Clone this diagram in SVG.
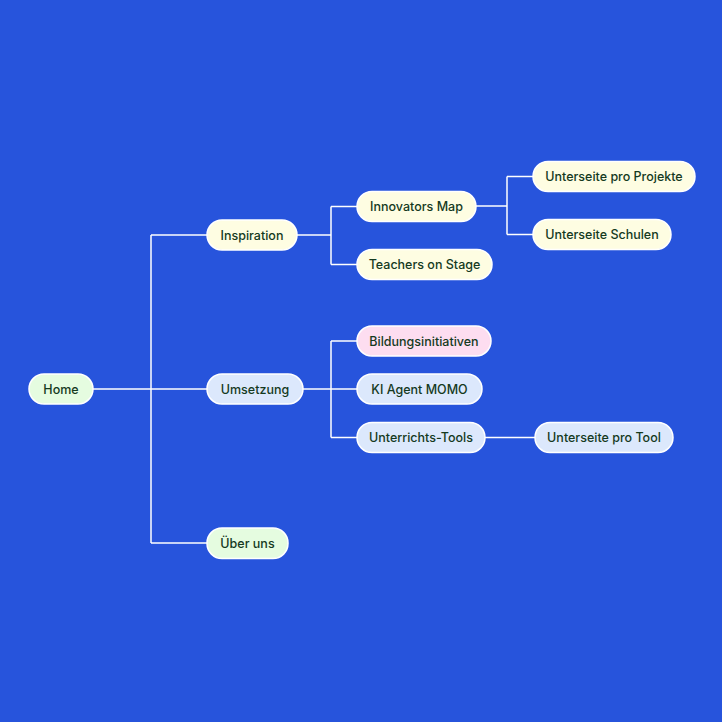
<svg xmlns="http://www.w3.org/2000/svg" width="722" height="722" viewBox="0 0 722 722">
<style>
.bg{fill:#2754DC}
.n rect{stroke:#ffffff;stroke-width:1.5}
.y rect{fill:#FEFDE2}
.g rect{fill:#E5FCE0}
.b rect{fill:#DCE8FC}
.p rect{fill:#FDDDF0}
.n text{font-family:Inter,"Liberation Sans",sans-serif;font-size:12.5px;font-weight:500;fill:#153A1E;text-anchor:middle;dominant-baseline:central}
.c{fill:none;stroke:#ffffff;stroke-width:1.5}
</style>
<rect class="bg" x="0" y="0" width="722" height="722"/>
<g id="connectors">
<path class="c" d="M93 389H207"/>
<path class="c" d="M151 235V543"/>
<path class="c" d="M151 235H207"/>
<path class="c" d="M151 543H207"/>
<path class="c" d="M297 235H331"/>
<path class="c" d="M331 206.5V264.5"/>
<path class="c" d="M331 206.5H357"/>
<path class="c" d="M331 264.5H357"/>
<path class="c" d="M476 206H507"/>
<path class="c" d="M507 176.5V234.5"/>
<path class="c" d="M507 176.5H533"/>
<path class="c" d="M507 234.5H533"/>
<path class="c" d="M303 389H357"/>
<path class="c" d="M331 341V437.5"/>
<path class="c" d="M331 341H357"/>
<path class="c" d="M331 437.5H357"/>
<path class="c" d="M485 437.5H535"/>
</g>
<g id="home" class="n g"><rect x="29" y="374" width="64" height="30" rx="15"/><text x="61" y="389">Home</text></g>
<g id="inspiration" class="n y"><rect x="207" y="220" width="90" height="30" rx="15"/><text x="252" y="235">Inspiration</text></g>
<g id="umsetzung" class="n b"><rect x="207" y="374" width="96" height="30" rx="15"/><text x="255" y="389">Umsetzung</text></g>
<g id="ueber-uns" class="n g"><rect x="207" y="528" width="81" height="30.5" rx="15"/><text x="247.5" y="543.5">Über uns</text></g>
<g id="innovators-map" class="n y"><rect x="357" y="191.5" width="119" height="30" rx="15"/><text x="416.5" y="206.5">Innovators Map</text></g>
<g id="teachers-on-stage" class="n y"><rect x="357" y="249.5" width="135" height="30" rx="15"/><text x="424.5" y="264.5">Teachers on Stage</text></g>
<g id="unterseite-projekte" class="n y"><rect x="533" y="161.5" width="162" height="30" rx="15"/><text x="614" y="176.5">Unterseite pro Projekte</text></g>
<g id="unterseite-schulen" class="n y"><rect x="533" y="219.5" width="138" height="30" rx="15"/><text x="602" y="234.5">Unterseite Schulen</text></g>
<g id="bildungsinitiativen" class="n p"><rect x="357" y="326" width="134" height="30" rx="15"/><text x="424" y="341">Bildungsinitiativen</text></g>
<g id="ki-agent-momo" class="n b"><rect x="357" y="374" width="125" height="30" rx="15"/><text x="419.5" y="389">KI Agent MOMO</text></g>
<g id="unterrichts-tools" class="n b"><rect x="357" y="422.5" width="128" height="30" rx="15"/><text x="421" y="437.5">Unterrichts-Tools</text></g>
<g id="unterseite-tool" class="n b"><rect x="535" y="422.5" width="138" height="30" rx="15"/><text x="604" y="437.5">Unterseite pro Tool</text></g>
</svg>
